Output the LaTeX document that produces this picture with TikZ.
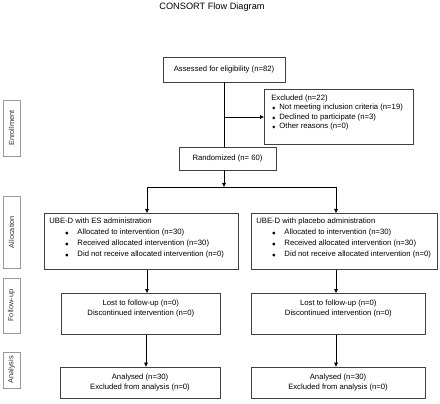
\documentclass[tikz,border=0pt]{standalone}
\usepackage{fontspec}
\setmainfont{Liberation Sans}
\newfontfamily\symfont{DejaVu Sans}
\usetikzlibrary{arrows.meta}
\newcommand{\dmd}{{\symfont\fontsize{4}{4}\selectfont ◆}}
\newcommand{\bul}{{\symfont\fontsize{3.6}{4}\selectfont ●}}
\newcommand{\bxt}[3]{\parbox[t][#2][t]{#1}{\fontsize{7.7}{9.2}\selectfont #3}}
\begin{document}
\begin{tikzpicture}[x=1pt,y=-1pt,
  box/.style={draw=black!75, line width=0.7pt, inner sep=0pt, anchor=north west},
  cbox/.style={draw=black!75, line width=0.7pt, inner sep=0pt, align=center, font=\fontsize{7.7}{10}\selectfont},
  side/.style={draw=black!40, line width=0.6pt, inner sep=0pt, rotate=90, text=black!80, font=\fontsize{7.4}{8}\selectfont},
  conn/.style={draw=black, line width=0.8pt},
  arr/.style={conn, -{Triangle[length=4pt,width=3.6pt]}}]
\useasboundingbox (0,0) rectangle (440,404);
\node[font=\fontsize{9.2}{11}\selectfont] (title) at (212,7) {CONSORT Flow Diagram};
% main boxes
\node[cbox, minimum width=122pt, minimum height=25pt] (assess) at (224,69.5) {Assessed for eligibility (n=82)};
\node[box, inner xsep=7pt, inner ysep=6pt] (excl) at (264,89)
  {\bxt{135pt}{43pt}{Excluded (n=22)\\[-0.3pt]
   \hspace*{1pt}\dmd\hspace{4pt}Not meeting inclusion criteria (n=19)\\
   \hspace*{1pt}\dmd\hspace{4pt}Declined to participate (n=3)\\
   \hspace*{1pt}\dmd\hspace{4pt}Other reasons (n=0)}};
\node[cbox, minimum width=97pt, minimum height=23pt] (rand) at (227.5,158.5) {Randomized (n= 60)};
\node[box, inner xsep=5pt, inner ysep=5pt] (allocL) at (44,213)
  {\bxt{184pt}{46pt}{\fontsize{7.7}{10.8}\selectfont UBE-D with ES administration\\
   \hspace*{16pt}\bul\hspace{9pt}Allocated to intervention (n=30)\\
   \hspace*{16pt}\bul\hspace{9pt}Received allocated intervention (n=30)\\
   \hspace*{16pt}\bul\hspace{9pt}Did not receive allocated intervention (n=0)}};
\node[box, inner xsep=5pt, inner ysep=5pt] (allocR) at (251,213)
  {\bxt{176pt}{46pt}{\fontsize{7.7}{10.8}\selectfont UBE-D with placebo administration\\
   \hspace*{16pt}\bul\hspace{9pt}Allocated to intervention (n=30)\\
   \hspace*{16pt}\bul\hspace{9pt}Received allocated intervention (n=30)\\
   \hspace*{16pt}\bul\hspace{9pt}Did not receive allocated intervention (n=0)}};
\node[box, inner xsep=0pt, inner ysep=7pt] (fuL) at (61,293)
  {\bxt{159pt}{27pt}{\centering Lost to follow-up (n=0)\\Discontinued intervention (n=0)}};
\node[box, inner xsep=0pt, inner ysep=7pt] (fuR) at (251,293)
  {\bxt{174pt}{27pt}{\centering Lost to follow-up (n=0)\\Discontinued intervention (n=0)}};
\node[cbox, minimum width=160pt, minimum height=31pt] (anL) at (140,382.5) {Analysed (n=30)\\Excluded from analysis (n=0)};
\node[cbox, minimum width=174pt, minimum height=31pt] (anR) at (338,382.5) {Analysed (n=30)\\Excluded from analysis (n=0)};
% side labels
\node[side, minimum width=56pt, minimum height=17pt] (enr) at (11.5,128) {Enrollment};
\node[side, minimum width=72pt, minimum height=17pt] (all) at (11.5,232) {Allocation};
\node[side, minimum width=55pt, minimum height=17pt] (fol) at (11.5,305.5) {Follow-up};
\node[side, minimum width=36pt, minimum height=17pt] (ana) at (11.5,370) {Analysis};
% connectors
\coordinate (ej) at (224,117);
\coordinate (split) at (224,187);
\coordinate (bl) at (147,187);
\coordinate (br) at (336,187);
\draw[conn] (assess.south) -- (assess.south |- rand.north);
\draw[arr] (ej) -- (ej -| excl.west);
\draw[arr] (split |- rand.south) -- (split);
\draw[conn] (bl) -- (br);
\draw[arr] (bl) -- (bl |- allocL.north);
\draw[arr] (br) -- (br |- allocR.north);
\draw[arr] (bl |- allocL.south) -- (bl |- fuL.north);
\draw[arr] (br |- allocR.south) -- (br |- fuR.north);
\draw[arr] ([xshift=-1pt]bl |- fuL.south) -- ([xshift=-1pt]bl |- anL.north);
\draw[arr] (br |- fuR.south) -- (br |- anR.north);
\end{tikzpicture}
\end{document}
